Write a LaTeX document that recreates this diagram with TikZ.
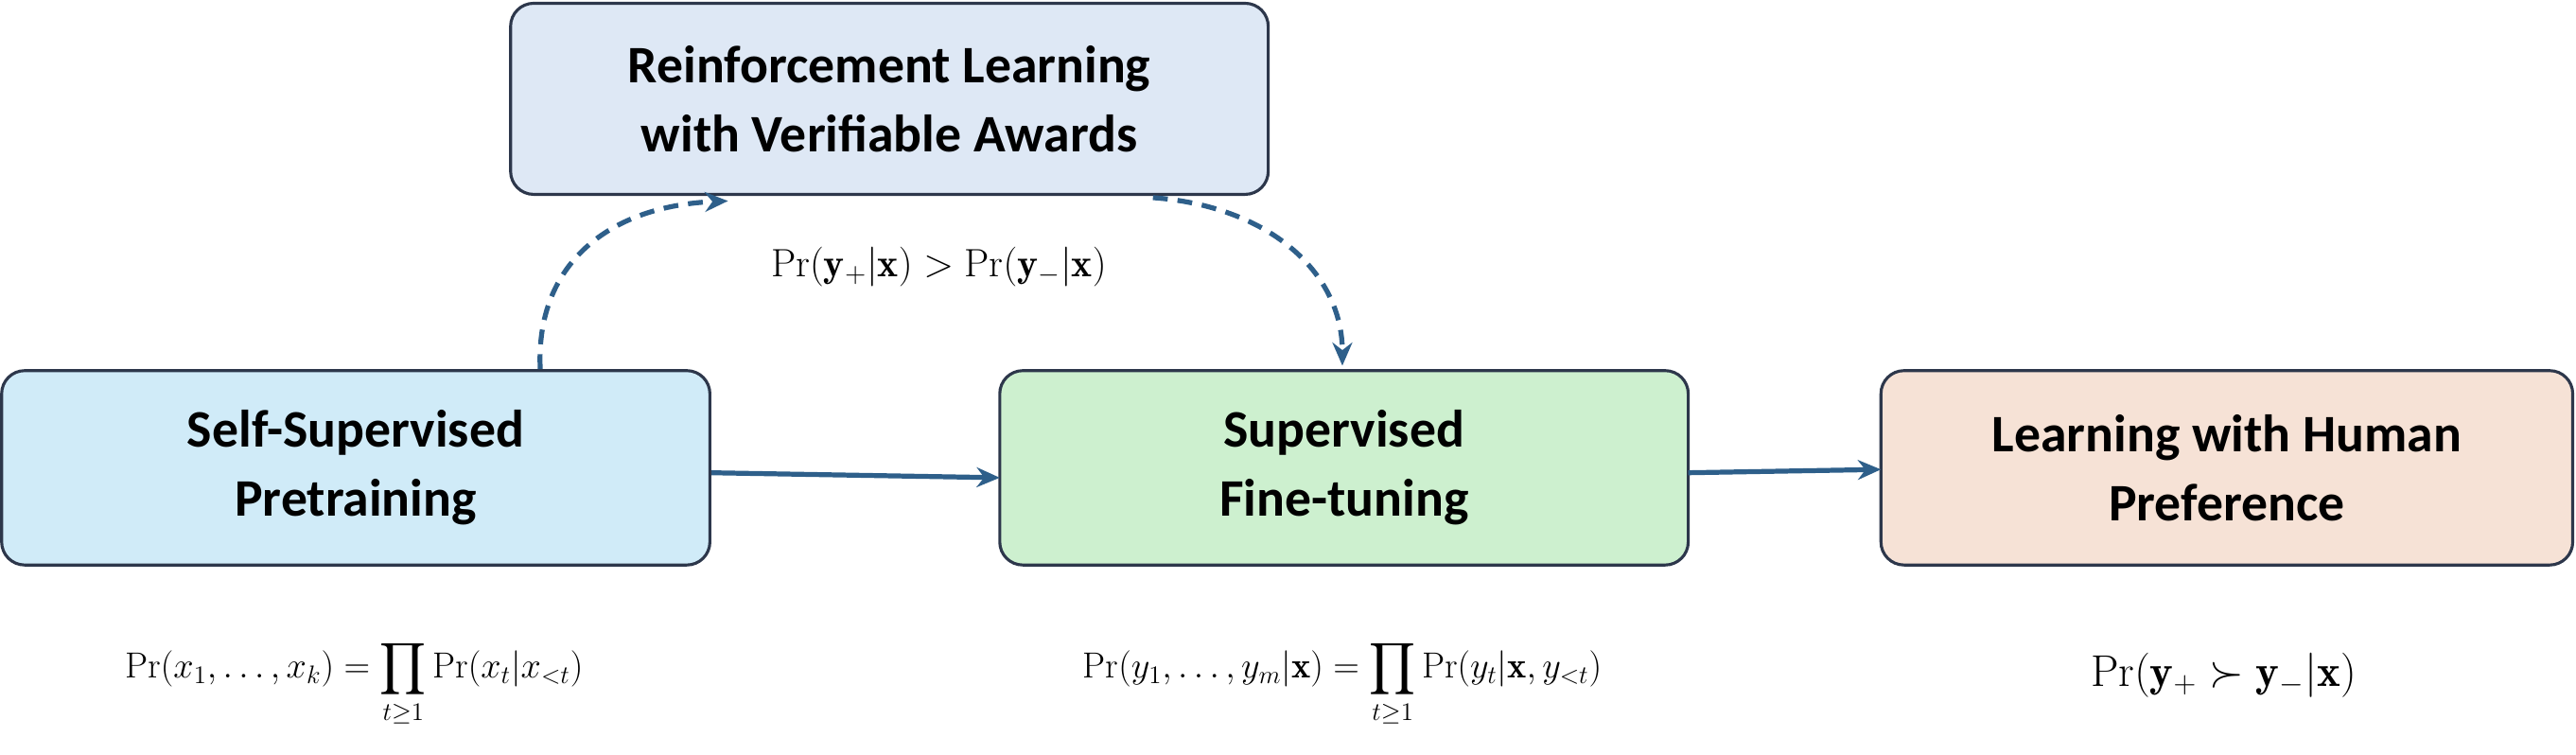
\documentclass[tikz,border=0pt]{standalone}
\usepackage{fix-cm}
\usepackage{amsmath,amssymb}
\usepackage{fontspec}
\newfontfamily\boxfont{Carlito}
\usetikzlibrary{arrows.meta}
\definecolor{bordc}{RGB}{45,55,75}
\definecolor{arrc}{RGB}{46,95,138}
\definecolor{rlc}{RGB}{222,232,245}
\definecolor{sspc}{RGB}{208,235,248}
\definecolor{sftc}{RGB}{205,240,207}
\definecolor{lhpc}{RGB}{246,226,214}
\tikzset{
 stage/.style={draw=bordc,line width=1.8pt,rounded corners=14pt,align=center,
   font=\boxfont\fontsize{32}{42}\selectfont\bfseries,inner sep=0pt},
 flow/.style={draw=arrc,line width=3pt,-{Stealth[length=14pt,width=12pt]}},
 dflow/.style={flow,dash pattern=on 9pt off 6pt},
 frm/.style={font=\fontsize{22}{26}\selectfont,inner sep=0pt}
}
\begin{document}
\begin{tikzpicture}[x=1pt,y=-1pt]
\useasboundingbox (0,0) rectangle (1564,458);
\node[stage,fill=rlc,minimum width=460pt,minimum height=116pt] (rl) at (540,60) {Reinforcement Learning\\with Verifiable Awards};
\node[stage,fill=sspc,minimum width=430pt,minimum height=118pt] (ssp) at (216,284) {Self-Supervised\\Pretraining};
\node[stage,fill=sftc,minimum width=418pt,minimum height=118pt] (sft) at (816,284) {Supervised\\Fine-tuning};
\node[stage,fill=lhpc,minimum width=420pt,minimum height=118pt] (lhp) at (1352,284) {Learning with Human\\Preference};
\coordinate (a1) at (432,287); \coordinate (a2) at (607,290);
\draw[flow] (a1) -- (a2);
\coordinate (b1) at (1025,287); \coordinate (b2) at (1142,285);
\draw[flow] (b1) -- (b2);
\coordinate (c1) at (328,224); \coordinate (c2) at (442,122);
\draw[dflow] (c1) .. controls (325,160) and (370,125) .. (c2);
\coordinate (d1) at (700,120); \coordinate (d2) at (815,222);
\draw[dflow] (d1) .. controls (770,125) and (815,165) .. (d2);
\node[frm,font=\fontsize{24}{28}\selectfont] (m0) at (570,162) {$\Pr(\mathbf{y}_+|\mathbf{x}) > \Pr(\mathbf{y}_-|\mathbf{x})$};
\node[frm] (m1) at (215,415) {$\displaystyle\Pr(x_1,\ldots,x_k)=\prod_{t\geq1}\Pr(x_t|x_{<t})$};
\node[frm] (m2) at (815,415) {$\displaystyle\Pr(y_1,\ldots,y_m|\mathbf{x})=\prod_{t\geq1}\Pr(y_t|\mathbf{x},y_{<t})$};
\node[frm,font=\fontsize{27}{30}\selectfont] (m3) at (1350,410) {$\Pr(\mathbf{y}_+\succ\mathbf{y}_-|\mathbf{x})$};
\end{tikzpicture}
\end{document}
